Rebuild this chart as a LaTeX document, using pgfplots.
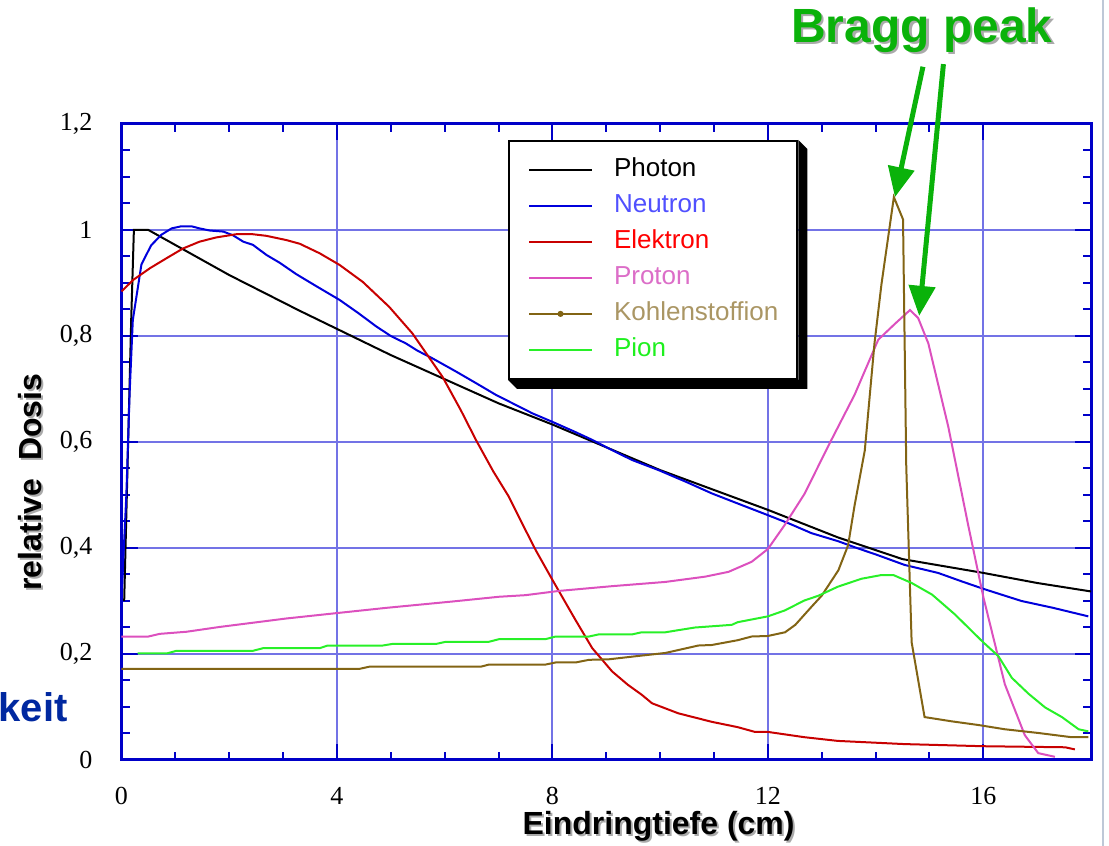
\documentclass[border=0pt]{standalone}
\usepackage{pgfplots}
\pgfplotsset{compat=1.18}
\usepackage{fontspec}
\setmainfont{Liberation Serif}
\setsansfont{Liberation Sans}
\usetikzlibrary{arrows.meta}

\definecolor{neutron}{RGB}{0,0,220}
\definecolor{elektron}{RGB}{200,0,0}
\definecolor{proton}{RGB}{220,80,190}
\definecolor{kohlen}{RGB}{130,100,20}
\definecolor{pion}{RGB}{40,240,40}
\definecolor{neutrontxt}{RGB}{80,80,255}
\definecolor{elektrontxt}{RGB}{255,0,0}
\definecolor{protontxt}{RGB}{220,110,200}
\definecolor{kohlentxt}{RGB}{170,150,100}
\definecolor{piontxt}{RGB}{30,240,30}
\definecolor{axisblue}{RGB}{0,0,200}
\definecolor{gridblue}{RGB}{115,115,230}
\definecolor{bragggreen}{RGB}{10,178,10}
\definecolor{keitblue}{RGB}{0,40,160}
\definecolor{shadowgray}{RGB}{170,170,170}

\pgfplotsset{
  linelegend/.style={legend image code/.code={\draw[##1] (0pt,0pt) -- (31.5pt,0pt); \path (42pt,0pt);}},
  kohlenlegend/.style={legend image code/.code={\draw[##1] (0pt,0pt) -- (31.5pt,0pt); \fill[##1] (15.75pt,0pt) circle (1pt); \path (42pt,0pt);}},
}

\begin{document}
\begin{tikzpicture}
\useasboundingbox (-60.75pt,-43pt) rectangle (493.75pt,380pt);
\begin{axis}[
  scale only axis,
  width=484.75pt, height=318pt,
  xmin=0, xmax=18, ymin=0, ymax=1.2,
  clip=false,
  xtick={0,4,8,12,16},
  ytick={0,0.2,0.4,0.6,0.8,1,1.2},
  minor x tick num=3,
  minor y tick num=3,
  tick align=inside,
  major tick length=8pt,
  minor tick length=4pt,
  axis line style={draw=axisblue, line width=1.5pt},
  every tick/.style={draw=axisblue, line width=1pt},
  grid=major,
  major grid style={draw=gridblue, line width=1pt},
  /pgf/number format/.cd, use comma, 1000 sep={}, assume math mode=true,
  /pgfplots/.cd,
  tick label style={font=\fontsize{13}{15}\selectfont},
  xticklabel style={yshift=-10pt},
  yticklabel style={xshift=-11pt},
  legend style={name=leg, at={(0.3987,0.975)}, anchor=north west, draw=black, line width=1pt,
    fill=white, font=\fontsize{13}{15}\sffamily,
    inner xsep=9.5pt, inner ysep=8pt, row sep=5pt,
    nodes={inner sep=0pt, text height=10pt, text depth=3pt},
    cells={anchor=west}},
  linelegend,
]
\addplot[black, line width=1pt] coordinates {
(0.05,0.3) (0.18,0.83) (0.23,1.0) (0.5,1.0) (2.0,0.915) (3.3,0.848) (5.0,0.764) (7.0,0.673) (8.0,0.633) (10.0,0.547) (12.0,0.472) (13.3,0.42) (14.5,0.379) (16.0,0.353) (17.0,0.334) (18.0,0.318)
};
\addlegendentry{Photon}
\addplot[neutron, line width=1pt] coordinates {
(0,0.3) (0.03,0.37) (0.09,0.5) (0.15,0.69) (0.21,0.83) (0.37,0.935) (0.55,0.971) (0.74,0.991) (0.93,1.003) (1.11,1.007) (1.30,1.007) (1.45,1.003) (1.64,0.999) (1.89,0.997) (2.07,0.99) (2.26,0.978) (2.44,0.972) (2.69,0.953) (2.94,0.938) (3.24,0.917) (3.6,0.895) (4.05,0.868) (4.4,0.843) (4.73,0.818) (5.0,0.80) (5.28,0.786) (5.5,0.772) (5.77,0.758) (6.21,0.733) (6.6,0.71) (6.95,0.689) (7.3,0.671) (7.63,0.654) (8.0,0.638) (8.4,0.62) (8.74,0.604) (9.1,0.585) (9.48,0.566) (9.97,0.547) (10.5,0.524) (10.96,0.503) (11.44,0.484) (12.0,0.462) (12.4,0.446) (12.81,0.428) (13.3,0.413) (13.68,0.399) (14.0,0.388) (14.54,0.368) (15.16,0.353) (15.6,0.337) (16.0,0.323) (16.4,0.31) (16.71,0.30) (17.3,0.287) (17.95,0.271)
};
\addlegendentry{\textcolor{neutrontxt}{Neutron}}
\addplot[elektron, line width=1pt] coordinates {
(0,0.884) (0.22,0.906) (0.53,0.928) (0.84,0.947) (1.14,0.965) (1.45,0.978) (1.76,0.986) (2.13,0.992) (2.44,0.992) (2.69,0.989) (3.06,0.981) (3.31,0.974) (3.68,0.956) (4.05,0.934) (4.48,0.902) (4.97,0.855) (5.40,0.805) (5.96,0.723) (6.3,0.66) (6.58,0.604) (6.9,0.545) (7.19,0.497) (7.5,0.434) (7.69,0.396) (8.0,0.34) (8.43,0.264) (8.74,0.211) (9.11,0.167) (9.4,0.142) (9.66,0.123) (9.85,0.107) (10.34,0.088) (10.96,0.072) (11.44,0.062) (11.76,0.053) (12.0,0.053) (12.68,0.043) (13.3,0.036) (13.92,0.033) (14.54,0.03) (16.0,0.026) (17.52,0.024) (17.7,0.02)
};
\addlegendentry{\textcolor{elektrontxt}{Elektron}}
\addplot[proton, line width=1pt] coordinates {
(0,0.233) (0.5,0.233) (0.71,0.238) (1.21,0.242) (1.82,0.251) (2.44,0.259) (3.06,0.267) (3.98,0.277) (4.91,0.287) (6.14,0.299) (7.01,0.308) (7.5,0.311) (8.12,0.319) (9.11,0.328) (10.1,0.336) (10.84,0.346) (11.27,0.355) (11.7,0.374) (12.0,0.398) (12.31,0.443) (12.68,0.502) (13.15,0.598) (13.61,0.689) (14.05,0.793) (14.36,0.823) (14.64,0.849) (14.79,0.834) (14.98,0.786) (15.35,0.629) (15.72,0.443) (16.0,0.308) (16.4,0.143) (16.77,0.047) (17.02,0.013) (17.33,0.006)
};
\addlegendentry{\textcolor{protontxt}{Proton}}
\addplot[kohlen, line width=1pt, kohlenlegend] coordinates {
(0,0.172) (4.42,0.172) (4.6,0.176) (6.67,0.176) (6.82,0.18) (7.87,0.18) (8.06,0.184) (8.43,0.184) (8.68,0.189) (9.05,0.19) (9.48,0.195) (10.1,0.202) (10.71,0.216) (10.96,0.217) (11.44,0.226) (11.7,0.233) (12.0,0.234) (12.32,0.241) (12.51,0.255) (12.81,0.289) (13.0,0.31) (13.31,0.358) (13.49,0.405) (13.61,0.48) (13.8,0.584) (13.98,0.786) (14.11,0.898) (14.34,1.062) (14.51,1.02) (14.57,0.554) (14.67,0.222) (14.91,0.081) (15.16,0.077) (15.41,0.073) (15.91,0.066) (16.40,0.058) (17.02,0.051) (17.64,0.043) (17.95,0.043)
};
\addlegendentry{\textcolor{kohlentxt}{Kohlenstoffion}}
\addplot[pion, line width=1pt] coordinates {
(0.3,0.201) (0.84,0.201) (1.02,0.206) (2.44,0.206) (2.63,0.211) (3.68,0.211) (3.83,0.216) (4.85,0.216) (5.03,0.219) (5.84,0.219) (6.02,0.223) (6.82,0.223) (7.01,0.228) (7.87,0.228) (8.06,0.233) (8.68,0.233) (8.86,0.237) (9.48,0.237) (9.66,0.241) (10.1,0.241) (10.34,0.245) (10.65,0.25) (11.33,0.255) (11.44,0.26) (12.0,0.271) (12.31,0.282) (12.68,0.301) (12.94,0.31) (13.3,0.327) (13.74,0.342) (14.11,0.349) (14.33,0.349) (14.67,0.334) (15.05,0.312) (15.47,0.275) (16.0,0.222) (16.28,0.196) (16.53,0.155) (16.84,0.125) (17.15,0.099) (17.46,0.081) (17.77,0.058) (17.95,0.054)
};
\addlegendentry{\textcolor{piontxt}{Pion}}

% axis labels with light shadow
\node[font=\fontsize{16}{19}\sffamily\bfseries, text=shadowgray, xshift=1pt, yshift=-1pt] at (rel axis cs:0.554,-0.1038) {Eindringtiefe (cm)};
\node[font=\fontsize{16}{19}\sffamily\bfseries, text=black] at (rel axis cs:0.554,-0.1038) {Eindringtiefe (cm)};
\node[font=\fontsize{16}{19}\sffamily\bfseries, text=shadowgray, xshift=1pt, yshift=-1pt, rotate=90] at (rel axis cs:-0.0944,0.437) {relative\ \ Dosis};
\node[font=\fontsize{16}{19}\sffamily\bfseries, text=black, rotate=90] at (rel axis cs:-0.0944,0.437) {relative\ \ Dosis};

% Bragg peak annotation
\node[font=\fontsize{24}{28}\sffamily\bfseries, text=shadowgray, xshift=1.2pt, yshift=-1.2pt] at (rel axis cs:0.8257,1.148) {Bragg peak};
\node[font=\fontsize{24}{28}\sffamily\bfseries, text=bragggreen] at (rel axis cs:0.8257,1.148) {Bragg peak};
\draw[bragggreen, line width=2.5pt, -{Triangle[length=15pt,width=13pt]}] (axis cs:14.88,1.308) -- (axis cs:14.36,1.062);
\draw[bragggreen, line width=2.5pt, -{Triangle[length=15pt,width=13pt]}] (axis cs:15.26,1.313) -- (axis cs:14.81,0.838);

% partial word at left edge
\node[anchor=east, font=\fontsize{20}{24}\sffamily\bfseries, text=keitblue, inner sep=0pt] at (axis cs:-0.993,0.1) {keit};
% slide border at right
\draw[line width=1pt, color={rgb,255:red,190;green,200;blue,215}] (axis cs:18.22,-0.25) -- (axis cs:18.22,1.5);
\end{axis}
% extruded legend shadow
\fill[black] (leg.north east) -- ([shift={(4.5pt,-4.5pt)}]leg.north east) -- ([shift={(4.5pt,-4.5pt)}]leg.south east) -- ([shift={(4.5pt,-4.5pt)}]leg.south west) -- (leg.south west) -- (leg.south east) -- cycle;
\end{tikzpicture}
\end{document}
